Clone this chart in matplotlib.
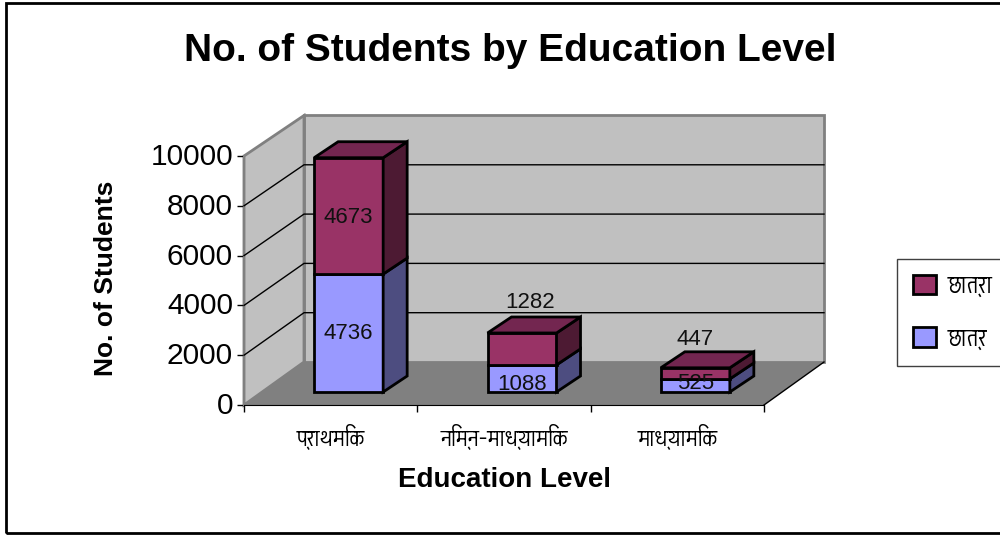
import matplotlib
matplotlib.use('Agg')
import matplotlib.pyplot as plt
from matplotlib import font_manager as fm
from matplotlib.patches import Patch, Rectangle
from matplotlib.ft2font import FT2Font
from matplotlib.transforms import ScaledTranslation

categories = ['प्राथमिक', 'निम्न-माध्यामिक', 'माध्यामिक']
boys = [4736, 1088, 525]
girls = [4673, 1282, 447]
yticks = [0, 2000, 4000, 6000, 8000, 10000]
boys_label = 'छात्र'
girls_label = 'छात्रा'

plt.rcParams['font.family'] = ['Liberation Sans', 'DejaVu Sans']

# look for anything that can draw devanagari
deva = []
for f in fm.fontManager.ttflist:
    try:
        if ord('छ') in FT2Font(f.fname).get_charmap():
            deva.append(f.name)
    except Exception:
        pass
deva_family = sorted(set(deva)) + ['Noto Sans', 'DejaVu Sans']

fig = plt.figure(figsize=(10, 5.35), dpi=100)
ax = fig.add_axes([0.244, 130 / 535, 0.52, 249 / 535])
ax.set_xlim(0, 3)
ax.set_ylim(0, 10000)
ax.patch.set_visible(False)

# pixels to data units
px = 3 / 520
py = 10000 / 249
dx, dy = 60 * px, 43 * py
bx, by = 24 * px, 16 * py
off_x, off_y = 18 * px, 13 * py
bar_w = 69 * px


def back(v):
    # back wall is a little shorter than the front plane
    return dy + v * 0.99


# walls and floor
ax.fill([dx, 3 + dx, 3 + dx, dx], [dy, dy, back(10000), back(10000)], fc='#C0C0C0', ec='#808080', lw=2, clip_on=False, zorder=1)
ax.fill([0, dx, dx, 0], [0, dy, back(10000), 10000], fc='#C0C0C0', ec='#808080', lw=2, clip_on=False, zorder=1)
ax.fill([0, 3, 3 + dx, dx], [0, 0, dy, dy], fc='#808080', ec='none', clip_on=False, zorder=2)
ax.plot([3, 3 + dx], [0, dy], color='black', lw=1, clip_on=False, zorder=3)
for t in yticks[1:-1]:
    ax.plot([0, dx, 3 + dx], [t, back(t), back(t)], color='black', lw=1, clip_on=False, zorder=3)

# stacked boxes
xs = [i + 0.5 + off_x for i in range(len(categories))]
for x, b, g in zip(xs, boys, girls):
    r = x + bar_w / 2
    l = x - bar_w / 2
    for start, h, front, side in [(off_y, b, '#9999FF', '#4D4D80'),
                                  (off_y + b, g, '#993366', '#4D1A33')]:
        ax.bar(x, h, bar_w, bottom=start, color=front, edgecolor='black', lw=2, clip_on=False, zorder=4)
        ax.fill([r, r + bx, r + bx, r], [start, start + by, start + h + by, start + h],
                fc=side, ec='black', lw=2, clip_on=False, zorder=4)
    t = off_y + b + g
    ax.fill([l, l + bx, r + bx, r], [t, t + by, t + by, t], fc='#732650', ec='black', lw=2, clip_on=False, zorder=4)

# data labels, offsets in pixels from the front face centre
boy_off = [(0, 0), (0, -6), (0, 2)]
girl_off = [(0, -2), (8, 46), (0, 34)]
for x, b, g, bo, go in zip(xs, boys, girls, boy_off, girl_off):
    ax.text(x + bo[0] * px, off_y + b / 2 + bo[1] * py, str(b), ha='center', va='center', fontsize=16, color='#111111', clip_on=False, zorder=6)
    ax.text(x + go[0] * px, off_y + b + g / 2 + go[1] * py, str(g), ha='center', va='center', fontsize=16, color='#111111', clip_on=False, zorder=6)

for s in ['top', 'right']:
    ax.spines[s].set_visible(False)
ax.spines['left'].set_color('#808080')
ax.spines['left'].set_linewidth(1.5)
ax.spines['bottom'].set_color('black')
ax.spines['bottom'].set_zorder(3)
ax.set_yticks(yticks)
ax.set_xticks(range(4))
ax.set_xticklabels([])
ax.tick_params(axis='y', labelsize=21.5, length=5, width=1, pad=3, color='black')
ax.tick_params(axis='x', length=5, width=1, color='black')
# tick labels sit about 2 px above their ticks
shift = ScaledTranslation(0, 2 / fig.dpi, fig.dpi_scale_trans)
for lab in ax.get_yticklabels():
    lab.set_transform(lab.get_transform() + shift)

for i, c in enumerate(categories):
    ax.text(i + 0.5, -31 * py, c, family=deva_family, ha='center', va='center', fontsize=17, clip_on=False)

fig.text(0.510, 1 - 51 / 535, 'No. of Students by Education Level', ha='center', va='center', fontsize=28, fontweight='bold')
fig.text(0.106, 1 - 278 / 535, 'No. of Students', rotation=90, ha='center', va='center', fontsize=19, fontweight='bold')
fig.text(0.504, 1 - 480 / 535, 'Education Level', ha='center', va='center', fontsize=20, fontweight='bold')

handles = [Patch(fc='#993366', ec='black', lw=2), Patch(fc='#9999FF', ec='black', lw=2)]
leg = fig.legend(handles, [girls_label, boys_label], loc='upper left', bbox_to_anchor=(0.897, 1 - 259 / 535),
                 borderaxespad=0, fancybox=False, framealpha=1, edgecolor='#404040', prop=fm.FontProperties(family=deva_family, size=18),
                 handlelength=0.92, handleheight=0.85, handletextpad=0.48, labelspacing=1.15, borderpad=0.62)

# outer chart border, runs off the right edge
fig.add_artist(Rectangle((6 / 1000, 1 - 533 / 535), 1.1, 530 / 535, transform=fig.transFigure, fc='none', ec='black', lw=2))

fig.savefig('out.png', dpi=100)
